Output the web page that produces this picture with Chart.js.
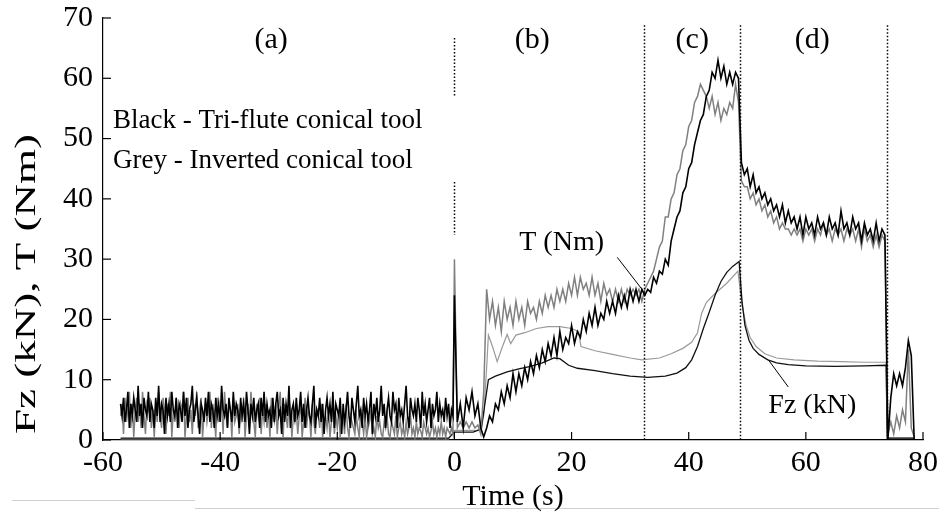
<!DOCTYPE html>
<html>
<head>
<meta charset="utf-8">
<script src="https://cdn.jsdelivr.net/npm/chart.js@4.4.1/dist/chart.umd.min.js"></script>
<style>
  html, body { margin: 0; padding: 0; background: #fff; }
  #wrap { position: relative; width: 939px; height: 517px; }
  .rule { position: absolute; height: 1px; background: #cfcfcf; }
  canvas { position: absolute; left: 0; top: 0; }
</style>
</head>
<body>
<div id="wrap">
  <div class="rule" style="left:12px; top:500px; width:183px;"></div>
  <div class="rule" style="left:195px; top:508px; width:744px;"></div>
  <canvas id="chart" width="939" height="517"></canvas>
</div>
<script>
// ============================================================
// Data
// ============================================================
// Idle stage (a): sampled every 0.25 s from -57 s to -0.25 s
const idleStart = -57;
const idleStep = 0.25;

const blackTorqueIdle = [
  6,4,7,3,5,8,2,6,4,7,5,3,9,4,6,2,7,5,4,8,
  3,6,5,2,7,4,9,3,6,5,1,7,4,6,3,8,5,4,7,2,
  6,5,3,8,4,7,2,5,6,9,3,5,7,4,1,6,5,3,7,4,
  8,3,6,5,2,7,4,6,3,9,5,4,6,2,7,5,3,8,4,6,
  5,2,7,4,6,3,8,5,1,6,4,7,3,5,6,2,7,4,8,3,
  6,4,5,2,7,3,6,8,4,5,1,7,3,6,4,9,2,5,6,3,
  7,4,5,8,3,6,2,5,7,4,3,6,9,2,5,4,7,3,6,1,
  5,7,4,6,3,8,2,6,5,4,7,1,6,3,5,8,4,2,7,5,
  3,6,9,4,5,2,7,4,6,3,5,8,1,6,4,7,3,5,9,4,
  6,2,5,7,4,3,8,5,6,2,7,4,5,3,6,9,4,2,7,5,
  4,6,3,7,5,2,8,4,6,3,5,7,2,6,4,5,8,3,6,4,
  5,3,7,4,6,2,5,4
];

const greyTorqueIdle = [
  4,6,1,7,3,5,8,2,6,0.5,5,7,3,6,2,8,4,1,6,5,
  7,2,5,0.5,6,3,8,4,2,7,5,1,6,4,8,0.5,5,3,7,4,
  2,6,5,8,0.5,4,7,3,5,1,6,4,8,2,5,7,0.5,4,6,3,
  5,8,2,6,4,0.5,7,3,5,6,1,8,4,2,6,5,0.5,7,3,4,
  6,1,5,3,7,0.5,4,6,2,8,5,3,0.5,6,4,7,1,5,3,6,
  2,5,0.5,7,4,3,6,1,5,8,3,0.5,6,4,2,7,5,0.5,4,3,
  5,1,4,6,0.5,3,7,2,5,4,0.5,6,3,1,5,4,2,6,0.5,3,
  4,2,5,0.5,3,6,1,4,2,5,0.5,3,4,1,6,2,0.5,4,3,2,
  1,4,2,0.5,5,3,1,4,0.5,2,3,5,1,2,0.5,4,2,3,1,0.5,
  3,2,4,1,0.5,3,2,1,4,0.5,2,3,1,2,0.5,3,1,2,4,1,
  2,0.5,3,1,2,1.5,0.5,3,2,1,2,0.5,1.5,3,1,2,0.5,2,1,3,
  1,2,0.5,2,1.5,1,2,1
];

// Cutting stages (b)-(d): sampled every 0.5 s from 0 s to 78.5 s
const cutStart = 0;
const cutStep = 0.5;

const blackTorqueCut = [
  24,
  3,6,2,7,5,8,4,6,2,0.5,
  2,4,3,6,5,8,6,9,7,11,
  8,11,9,12,10,13,11,14,12,15,
  13,16,14,17,14,18,15,17,16,19,
  16,18,17,20,18,21,19,22,19,21,
  20,23,21,23,21,24,22,24,22,25,
  23,25,23,25,24,25,24.5,27,26,28,
  27.5,30,29,33,35,37,38,41,42,45,
  46,49,51,53,54,57,58,61,60,63,
  60,62,59,61,59,61,60,46,44,45,
  42,44,41,42,40,41,39,40,38,39,
  37,39,36,38,36,37,35,37,34,37,
  35,36,34,37,35,36,34,37,35,36,
  34,38,35,36,34,37,35,36,33,36,
  34,35,33,36,33,35,34,0,7,11,
  9,11,9,12,16.5,14,0
];

const greyTorqueCut = [
  30,
  2,3,2,3,2,3,2,2.5,1,8,
  25,20,23,19,22,18,23,20,22,19,
  23,20,22,19,23,21,22,20,23,21,
  24,22,24,22,25,23,25,23,26,24,
  27,24,27,25,26,24,27,24,26,23,
  26,24,25,23,25,23,25,23,25,24,
  25,24,25,23,25,26,27,28,30,32,
  33,37,37,40,41,44,45,48,49,52,
  53,56,57,59,58,57,55,57,54,56,
  53,55,54,56,55,59,56,43,42,42,
  40,41,39,40,38,39,37,38,36,37,
  35,36,35,35,34,35,34,35,33,35,
  34,35,33,35,34,36,34,35,33,35,
  34,35,33,35,34,35,33,35,32,35,
  33,34,32,34,32,34,33,1,3,1,
  4,2,5,3,15,2,0.5
];

// Thrust force traces (smooth)
const fzBlackT = [-57,-1,0,3.2,4.6,5.2,5.8,7,9,11,13,15,17,18,19.5,21,24,27,30,33,36,38,39.5,40.5,41.5,42.5,43.5,44.5,45.5,46.5,47.5,48.6,49.1,49.6,50.3,51,52,53.5,55,57,60,65,70,73.7,73.9,78.5];
const fzBlackV = [0.3,0.3,1.3,1.3,1.8,6,10,10.6,11.3,11.8,12.2,12.8,13.6,13.5,12.4,11.9,11.5,11,10.6,10.4,10.6,11.1,12,13.3,15.5,18.5,21.2,24,26.3,27.8,28.8,29.6,23,19,16.5,15.2,14.2,13.3,12.8,12.5,12.3,12.2,12.3,12.4,0.3,0.3];

const fzGreyT = [-57,-1,0,4,5,5.5,5.8,6.5,7.3,8.2,9,9.6,10.5,12,14,16,18,20,21.2,21.6,24,27,30,32,35,37,39,40.5,41.5,42.2,43,44.5,46.5,48.4,49.1,49.8,50.5,51.5,53,55,58,62,66,70,73.7,73.9,78.5];
const fzGreyV = [0.2,0.2,1.6,1.6,4,12,17.4,15.5,13,15.5,17.5,16,17.4,17.8,18.5,18.8,18.8,18.5,18,15.5,14.8,14.2,13.6,13.3,13.6,14.3,15.2,16.2,17.8,21,22.8,24.3,26,28,22.5,19,17,15.5,14.3,13.6,13.3,13.1,13,12.9,12.9,0.3,0.3];

// Stage dividers (dotted) and their vertical extents
const dividerTimes = [0, 32.4, 48.7, 73.8];
const dividerSpans = [[[66.7, 57], [42.8, 34]], [[68.8, 0]], [[68.8, 0]], [[68.8, 0]]];

// Text annotations
const stageLabels = ['(a)', '(b)', '(c)', '(d)'];
const stageT = [-31.3, 13.3, 40.6, 61.1];
const stageV = 66.3;

const legendLines = ['Black - Tri-flute conical tool', 'Grey - Inverted conical tool'];
const legendT = -58.3;
const legendV = [52.9, 46.3];

const curveLabels = ['T (Nm)', 'Fz (kN)'];
const curveLabelT = [18.3, 61.1];
const curveLabelV = [32.7, 5.7];

const leaderT = [[27.8, 32.1], [57.0, 53.6]];
const leaderV = [[30.3, 24.9], [8.8, 13.3]];

const xTicks = { min: -60, max: 80, step: 20 };
const yTicks = { min: 0, max: 70, step: 10 };

// ============================================================
// Build datasets
// ============================================================
const SERIF = "'Liberation Serif', 'Times New Roman', serif";

function sampled(start, step, values) {
  return values.map((v, i) => ({ x: start + i * step, y: v }));
}

function paired(ts, vs) {
  return ts.map((t, i) => ({ x: t, y: vs[i] }));
}

const lineBase = { pointRadius: 0, fill: false, tension: 0, borderJoinStyle: 'miter' };

const blackTorque = sampled(idleStart, idleStep, blackTorqueIdle).concat(sampled(cutStart, cutStep, blackTorqueCut));
const greyTorque = sampled(idleStart, idleStep, greyTorqueIdle).concat(sampled(cutStart, cutStep, greyTorqueCut));

const datasets = [
  { ...lineBase, label: 'T black', data: blackTorque, borderColor: '#000', borderWidth: 1.6 },
  { ...lineBase, label: 'T grey', data: greyTorque, borderColor: '#808080', borderWidth: 1.5 },
  { ...lineBase, label: 'Fz black', data: paired(fzBlackT, fzBlackV), borderColor: '#111', borderWidth: 1.3 },
  { ...lineBase, label: 'Fz grey', data: paired(fzGreyT, fzGreyV), borderColor: '#9a9a9a', borderWidth: 1.2 },
];
leaderT.forEach((ts, i) => {
  datasets.push({ ...lineBase, label: 'leader' + i, data: paired(ts, leaderV[i]), borderColor: '#000', borderWidth: 1 });
});

// ============================================================
// Overlay plugin: inward ticks, dividers, texts, axis titles
// ============================================================
const overlay = {
  id: 'overlay',
  afterDraw(chart) {
    const { ctx, scales: { x, y }, chartArea } = chart;
    ctx.save();

    // dotted stage dividers
    ctx.strokeStyle = '#000';
    ctx.lineWidth = 1.5;
    ctx.setLineDash([1.5, 2]);
    dividerTimes.forEach((t, i) => {
      const px = Math.round(x.getPixelForValue(t)) + 0.5;
      dividerSpans[i].forEach(([a, b]) => {
        ctx.beginPath();
        ctx.moveTo(px, y.getPixelForValue(a));
        ctx.lineTo(px, y.getPixelForValue(b));
        ctx.stroke();
      });
    });
    ctx.setLineDash([]);

    // inward tick marks
    ctx.lineWidth = 1.2;
    for (let v = xTicks.min; v <= xTicks.max; v += xTicks.step) {
      const px = x.getPixelForValue(v);
      ctx.beginPath();
      ctx.moveTo(px, chartArea.bottom);
      ctx.lineTo(px, chartArea.bottom - 8);
      ctx.stroke();
    }
    for (let v = yTicks.min; v <= yTicks.max; v += yTicks.step) {
      const py = y.getPixelForValue(v);
      ctx.beginPath();
      ctx.moveTo(chartArea.left, py);
      ctx.lineTo(chartArea.left + 8, py);
      ctx.stroke();
    }

    // texts
    ctx.fillStyle = '#000';
    ctx.textBaseline = 'middle';
    ctx.textAlign = 'center';
    ctx.font = '30px ' + SERIF;
    stageLabels.forEach((s, i) => ctx.fillText(s, x.getPixelForValue(stageT[i]), y.getPixelForValue(stageV)));

    ctx.font = '28px ' + SERIF;
    curveLabels.forEach((s, i) => ctx.fillText(s, x.getPixelForValue(curveLabelT[i]), y.getPixelForValue(curveLabelV[i])));

    ctx.textAlign = 'left';
    ctx.font = '27px ' + SERIF;
    legendLines.forEach((s, i) => ctx.fillText(s, x.getPixelForValue(legendT), y.getPixelForValue(legendV[i])));

    // axis titles
    ctx.font = '30px ' + SERIF;
    ctx.textAlign = 'center';
    ctx.fillText('Time (s)', (chartArea.left + chartArea.right) / 2, 497);
    ctx.translate(27, 284);
    ctx.rotate(-Math.PI / 2);
    ctx.scale(1.5, 1);
    ctx.fillText('Fz (kN), T (Nm)', 0, 0);

    ctx.restore();
  }
};

// ============================================================
// Chart
// ============================================================
const tickFont = { family: SERIF, size: 30 };

new Chart(document.getElementById('chart'), {
  type: 'line',
  data: { datasets },
  options: {
    responsive: false,
    animation: false,
    devicePixelRatio: 1,
    layout: { padding: { top: 18, right: 16, left: 0, bottom: 0 } },
    plugins: { legend: { display: false }, tooltip: { enabled: false } },
    scales: {
      x: {
        type: 'linear',
        min: xTicks.min,
        max: xTicks.max,
        ticks: { stepSize: xTicks.step, color: '#000', font: tickFont, padding: 5, maxRotation: 0 },
        grid: { display: false, drawTicks: false },
        border: { display: true, color: '#000', width: 1.2 },
        afterFit: s => { s.height = 77; s.paddingLeft = 0; s.paddingRight = 0; },
      },
      y: {
        min: yTicks.min,
        max: yTicks.max,
        ticks: { stepSize: yTicks.step, color: '#000', font: tickFont, padding: 10 },
        grid: { display: false, drawTicks: false },
        border: { display: true, color: '#000', width: 1.2 },
        afterFit: s => { s.width = 103; s.paddingTop = 0; s.paddingBottom = 0; },
      },
    },
  },
  plugins: [overlay],
});
</script>
</body>
</html>
